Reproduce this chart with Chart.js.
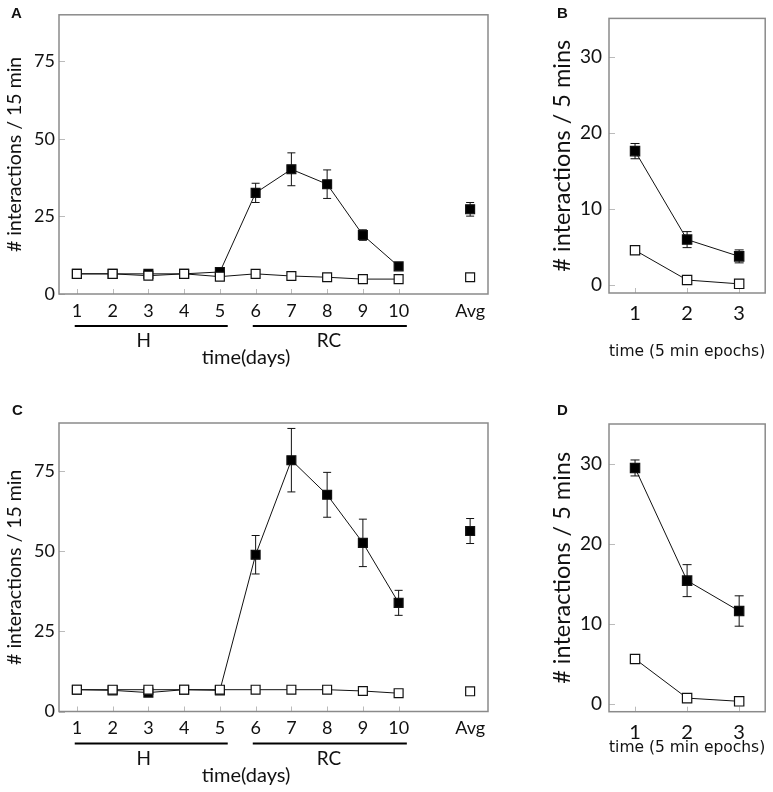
<!DOCTYPE html>
<html>
<head>
<meta charset="utf-8">
<script src="https://cdn.jsdelivr.net/npm/chart.js@4"></script>
<style>
  body { margin: 0; background: #fff; width: 773px; height: 792px; position: relative; overflow: hidden; }
  canvas { position: absolute; }
  .tag { position: absolute; font: bold 15px "Liberation Sans", Arial, sans-serif; color: #111; line-height: 15px; }
</style>
</head>
<body>
<canvas id="chartA" width="500" height="395" style="left:0;top:0"></canvas>
<canvas id="chartB" width="273" height="395" style="left:500px;top:0"></canvas>
<canvas id="chartC" width="500" height="392" style="left:0;top:400px"></canvas>
<canvas id="chartD" width="273" height="392" style="left:500px;top:400px"></canvas>
<div class="tag" style="left:11px;top:5px">A</div>
<div class="tag" style="left:557px;top:5px">B</div>
<div class="tag" style="left:12px;top:402px">C</div>
<div class="tag" style="left:557px;top:402px">D</div>
<script>
// days 1-10 plus the average, one empty slot between them
const dayLabels = ["1", "2", "3", "4", "5", "6", "7", "8", "9", "10", "", "Avg"];
const tickedDays = ["1", "2", "3", "4", "5", "6", "7", "8", "9", "10"];
const dayTicksY = [0, 25, 50, 75];

// H / RC brackets under the day axis (category index units)
const groupNames = ["H", "RC"];
const groupFrom = [-0.06, 4.92];
const groupTo = [4.22, 9.23];
const groupTextAt = [1.87, 7.05];
const dayTitle = "time(days)";
const dayTitleAt = 4.73;

// panel A
const aFilled = [6.5, 6.5, 6.5, 6.5, 7.1, 32.6, 40.2, 35.4, 19.0, 8.9, null, 27.3];
const aFilledErr = [0, 0, 0, 0, 0, 3.1, 5.3, 4.6, 1.7, 0, null, 2.2];
const aOpen = [6.5, 6.5, 5.9, 6.5, 5.6, 6.5, 5.8, 5.4, 4.8, 4.8, null, 5.4];
const aOpenErr = [0, 0, 0, 0, 0, 0, 0, 0, 0, 0, null, 0.4];

// panel C
const cFilled = [6.8, 6.6, 5.9, 6.8, 6.6, 48.9, 78.4, 67.6, 52.6, 33.9, null, 56.3];
const cFilledErr = [0, 0, 0, 0, 0, 6.0, 9.9, 7.0, 7.4, 3.9, null, 3.9];
const cOpen = [6.8, 6.8, 6.8, 6.8, 6.8, 6.8, 6.8, 6.8, 6.4, 5.7, null, 6.3];
const cOpenErr = [0, 0, 0, 0, 0, 0, 0, 0, 0, 0, null, 0.4];

// panels B and D: 5 min epochs
const epochLabels = ["1", "2", "3"];
const epochTicksY = [0, 10, 20, 30];
const bFilled = [17.6, 6.0, 3.8];
const bFilledErr = [1.0, 1.05, 0.85];
const bOpen = [4.6, 0.7, 0.2];
const dFilled = [29.5, 15.4, 11.6];
const dFilledErr = [1.0, 2.0, 1.9];
const dOpen = [5.6, 0.7, 0.3];

const errorBars = {
  id: "errorBars",
  beforeDatasetsDraw(chart, args, opts) {
    const { ctx, scales: { x, y } } = chart;
    ctx.save();
    ctx.strokeStyle = "#111";
    ctx.lineWidth = 1;
    chart.data.datasets.forEach(ds => {
      if (!ds.errors) return;
      ds.data.forEach((v, i) => {
        const e = ds.errors[i];
        if (v == null || !e) return;
        const px = x.getPixelForValue(i);
        const top = y.getPixelForValue(v + e);
        const bot = y.getPixelForValue(v - e);
        const c = opts.cap / 2;
        ctx.beginPath();
        ctx.moveTo(px, top); ctx.lineTo(px, bot);
        ctx.moveTo(px - c, top); ctx.lineTo(px + c, top);
        ctx.moveTo(px - c, bot); ctx.lineTo(px + c, bot);
        ctx.stroke();
      });
    });
    ctx.restore();
  }
};

// box frame, inward tick marks and the H / RC brackets
const frame = {
  id: "frame",
  beforeDatasetsDraw(chart, args, opts) {
    const { ctx, chartArea: a, scales: { x, y } } = chart;
    ctx.save();
    ctx.strokeStyle = "#bbb";
    ctx.lineWidth = 1;
    ctx.beginPath();
    x.ticks.forEach((t, i) => {
      if (!opts.ticked.includes(chart.data.labels[i])) return;
      const px = Math.round(x.getPixelForValue(i)) + 0.5;
      ctx.moveTo(px, a.bottom); ctx.lineTo(px, a.bottom - 5);
    });
    y.ticks.forEach(t => {
      const py = Math.round(y.getPixelForValue(t.value)) + 0.5;
      ctx.moveTo(a.left, py); ctx.lineTo(a.left + 6, py);
    });
    ctx.stroke();
    ctx.strokeStyle = "#8a8a8a";
    ctx.lineWidth = 1.5;
    ctx.strokeRect(a.left, a.top, a.right - a.left, a.bottom - a.top);

    if (opts.groups) {
      ctx.strokeStyle = "#000";
      ctx.lineWidth = 2;
      ctx.fillStyle = "#111";
      ctx.font = "19px Lato";
      ctx.textAlign = "center";
      ctx.textBaseline = "middle";
      groupNames.forEach((name, i) => {
        const ly = a.bottom + 32;
        ctx.beginPath();
        ctx.moveTo(x.getPixelForValue(groupFrom[i]), ly);
        ctx.lineTo(x.getPixelForValue(groupTo[i]), ly);
        ctx.stroke();
        ctx.fillText(name, x.getPixelForValue(groupTextAt[i]), a.bottom + 47);
      });
      ctx.font = "20px Lato";
      ctx.fillText(dayTitle, x.getPixelForValue(dayTitleAt), a.bottom + 64);
    }
    ctx.restore();
  }
};

function series(values, errors, fill, r) {
  return {
    data: values,
    errors: errors,
    borderColor: "#111",
    borderWidth: 1,
    pointStyle: "rect",
    pointRadius: r,
    pointBackgroundColor: fill,
    pointBorderColor: "#111",
    pointBorderWidth: 1.2,
    spanGaps: false
  };
}

function makePanel(id, p) {
  const canvas = document.getElementById(id);
  const W = canvas.width, H = canvas.height;
  return new Chart(canvas, {
    type: "line",
    data: {
      labels: p.labels,
      // open squares first so they sit on top of the filled ones
      datasets: [series(p.open, p.openErr, "#fff", p.r), series(p.filled, p.filledErr, "#000", p.r)]
    },
    options: {
      responsive: false,
      animation: false,
      events: [],
      layout: { padding: { left: 0, top: p.box.top, right: W - p.box.right, bottom: 0 } },
      plugins: {
        legend: { display: false },
        tooltip: { enabled: false },
        errorBars: { cap: p.cap },
        frame: { ticked: p.ticked, groups: p.groups }
      },
      scales: {
        x: {
          type: "category",
          offset: true,
          grid: { display: false, drawTicks: false },
          border: { display: false },
          ticks: { autoSkip: false, maxRotation: 0, padding: p.xPad, color: "#111", font: { family: "Lato", size: p.xFont } },
          title: { display: !!p.xTitle, text: p.xTitle, align: "end", color: "#111", font: p.xTitleFont, padding: { top: 0, bottom: p.xTitlePad } },
          afterFit(s) { s.height = H - p.box.bottom; }
        },
        y: {
          min: p.yMin,
          max: p.yMax,
          grid: { display: false, drawTicks: false },
          border: { display: false },
          afterBuildTicks(s) { s.ticks = p.yTicks.map(v => ({ value: v })); },
          ticks: { padding: p.yPad, color: "#111", font: { family: "Lato", size: p.yFont } },
          title: { display: true, text: p.yTitle, color: "#111", font: { family: "Lato", size: p.yTitleSize }, padding: { top: p.yTitlePad, bottom: 0 } },
          afterFit(s) { s.width = p.box.left; }
        }
      }
    },
    plugins: [frame, errorBars]
  });
}

const dayCommon = {
  labels: dayLabels, ticked: tickedDays, groups: true, r: 6.3, cap: 8,
  yMin: 0, yMax: 90, yTicks: dayTicksY, xFont: 18, yFont: 18, xPad: 6, yPad: 4,
  xTitle: "", yTitle: "# interactions / 15 min", yTitleSize: 19.5, yTitlePad: 3.3
};
const epochCommon = {
  labels: epochLabels, ticked: epochLabels, groups: false, r: 6.6, cap: 9,
  yMin: -1, yMax: 35, yTicks: epochTicksY, xFont: 20, yFont: 19, yPad: 7,
  xTitle: "time (5 min epochs)", xTitleFont: { family: "DejaVu Sans", size: 16 },
  yTitle: "# interactions / 5 mins", yTitleSize: 23.5, yTitlePad: 47.9
};

makePanel("chartA", Object.assign({}, dayCommon, {
  filled: aFilled, filledErr: aFilledErr, open: aOpen, openErr: aOpenErr,
  box: { left: 59, top: 5, right: 488, bottom: 294 }
}));
makePanel("chartC", Object.assign({}, dayCommon, {
  filled: cFilled, filledErr: cFilledErr, open: cOpen, openErr: cOpenErr,
  box: { left: 59, top: 23, right: 488, bottom: 311.5 }
}));
makePanel("chartB", Object.assign({}, epochCommon, {
  filled: bFilled, filledErr: bFilledErr, open: bOpen, openErr: null,
  box: { left: 109, top: 6, right: 762, bottom: 293 }, xPad: 9, xTitlePad: 33.4
}));
makePanel("chartD", Object.assign({}, epochCommon, {
  filled: dFilled, filledErr: dFilledErr, open: dOpen, openErr: null,
  box: { left: 109, top: 24, right: 762, bottom: 311.7 }, xPad: 9.3, xTitlePad: 34.4
}));
</script>
</body>
</html>
